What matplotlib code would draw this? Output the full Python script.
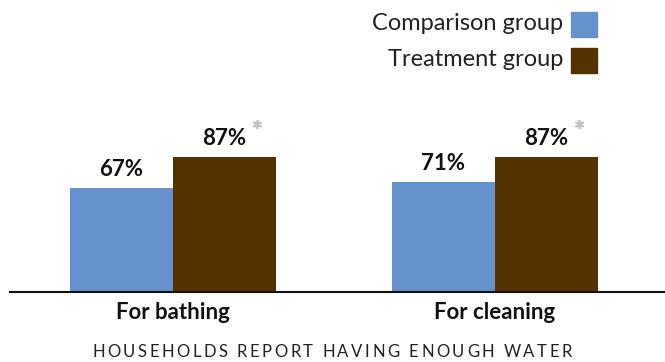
import matplotlib
matplotlib.use("Agg")
import matplotlib.pyplot as plt
from matplotlib.patches import Rectangle

categories = ["For bathing", "For cleaning"]
series_names = ["Comparison group", "Treatment group"]
comparison = [67, 71]
treatment = [87, 87]
significant = [True, True]
title = "HOUSEHOLDS REPORT HAVING ENOUGH WATER"

colors = ["#6592CD", "#553300"]
plt.rcParams['font.family'] = ['Lato', 'DejaVu Sans']

W, H = 665, 362
fig = plt.figure(figsize=(W / 100, H / 100), dpi=100)
ax = fig.add_axes([10 / W, (H - 292) / H, (665 - 10) / W, (292 - 100) / H])
px_per_unit = 1.552
ax.set_ylim(0, (292 - 100) / px_per_unit)
ax.set_xlim(-0.506, 1.528)

bw = 0.32
x = list(range(len(categories)))
for i in x:
    ax.bar(i - bw / 2, comparison[i], width=bw, color=colors[0])
    ax.bar(i + bw / 2, treatment[i], width=bw, color=colors[1])
    ax.text(i - bw / 2, comparison[i] + 5, f"{comparison[i]}%", ha="center", va="bottom",
            fontsize=16, fontweight="bold", color="#111111")
    ax.text(i + bw / 2, treatment[i] + 5, f"{treatment[i]}%", ha="center", va="bottom",
            fontsize=16, fontweight="bold", color="#111111")
    if significant[i]:
        ax.plot(i + bw / 2 + 0.1, treatment[i] + 21.3, marker=(6, 2, 0), markersize=6.5,
                color="#c2c2c2", markeredgewidth=1.3, clip_on=False)

for s in ["top", "right", "left"]:
    ax.spines[s].set_visible(False)
ax.spines["bottom"].set_linewidth(1.5)
ax.spines["bottom"].set_color("#111111")
ax.set_yticks([])
ax.set_xticks(x)
ax.set_xticklabels(categories, fontsize=16, fontweight="bold", color="#111111")
ax.tick_params(axis="x", length=0, pad=7)

# title with letter spacing
fig.canvas.draw()
renderer = fig.canvas.get_renderer()
tfs = 12
widths = []
for ch in title:
    if ch == " ":
        t = fig.text(0, 0, "I I", fontsize=tfs)
        w_ii = t.get_window_extent(renderer).width
        t.remove()
        t = fig.text(0, 0, "II", fontsize=tfs)
        w_i2 = t.get_window_extent(renderer).width
        t.remove()
        widths.append(w_ii - w_i2)
    else:
        t = fig.text(0, 0, ch, fontsize=tfs)
        widths.append(t.get_window_extent(renderer).width)
        t.remove()
target = 480.0
tracking = (target - sum(widths)) / (len(title) - 1)
xpos = 332 - target / 2
for ch, w in zip(title, widths):
    if ch != " ":
        fig.text(xpos / W, 1 - 352 / H, ch, ha="left", va="center", fontsize=tfs,
                 color="#222222")
    xpos += w + tracking

# legend
for j, name in enumerate(series_names):
    yc = 24 + j * 36
    fig.patches.append(Rectangle((571 / W, 1 - (yc + 12.5) / H), 26 / W, 25 / H,
                                 transform=fig.transFigure, color=colors[j]))
    fig.text(563 / W, 1 - yc / H, name, ha="right", va="center", fontsize=17,
             color="#222222")

fig.savefig("out.png", dpi=100)
